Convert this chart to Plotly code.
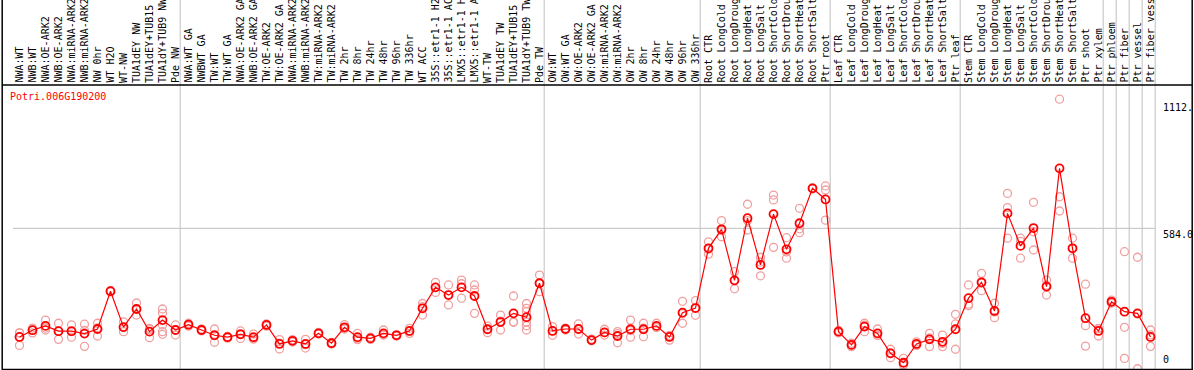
import plotly.graph_objects as go

gene = "Potri.006G190200"

labels_g1 = ["NWA:WT", "NWB:WT", "NWA:OE-ARK2", "NWB:OE-ARK2", "NWA:miRNA-ARK2", "NWB:miRNA-ARK2",
             "NW 0hr", "WT H2O", "WT-NW", "TUA1dEY NW", "TUA1dEY+TUB15 NW", "TUA1dY+TUB9 NW", "Pde NW"]
labels_g2 = ["NWA:WT GA", "NWBWT GA", "TW:WT", "TW:WT GA", "NWA:OE-ARK2 GA", "NWB:OE-ARK2 GA",
             "TW:OE-ARK2", "TW:OE-ARK2 GA", "NWA:miRNA-ARK2 GA", "NWB:miRNA-ARK2 GA", "TW:miRNA-ARK2",
             "TW:miRNA-ARK2 GA", "TW 2hr", "TW 8hr", "TW 24hr", "TW 48hr", "TW 96hr", "TW 336hr", "WT ACC",
             "35S::etr1-1 H2O", "35S::etr1-1 ACC", "LMX5::etr1-1 H2O", "LMX5::etr1-1 ACC", "WT-TW",
             "TUA1dEY TW", "TUA1dEY+TUB15 TW", "TUA1dY+TUB9 TW", "Pde TW"]
labels_g3 = ["OW:WT", "OW:WT GA", "OW:OE-ARK2", "OW:OE-ARK2 GA", "OW:miRNA-ARK2", "OW:miRNA-ARK2 GA",
             "OW 2hr", "OW 8hr", "OW 24hr", "OW 48hr", "OW 96hr", "OW 336hr"]
labels_g4 = ["Root CTR", "Root LongCold", "Root LongDrought", "Root LongHeat", "Root LongSalt",
             "Root ShortCold", "Root ShortDrought", "Root ShortHeat", "Root ShortSalt", "Ptr root"]
labels_g5 = ["Leaf CTR", "Leaf LongCold", "Leaf LongDrought", "Leaf LongHeat", "Leaf LongSalt",
             "Leaf ShortCold", "Leaf ShortDrought", "Leaf ShortHeat", "Leaf ShortSalt", "Ptr leaf"]
labels_g6 = ["Stem CTR", "Stem LongCold", "Stem LongDrought", "Stem LongHeat", "Stem LongSalt",
             "Stem ShortCold", "Stem ShortDrought", "Stem ShortHeat", "Stem ShortSalt", "Ptr shoot", "Ptr xylem"]
labels_g7 = ["Ptr phloem"]
labels_g8 = ["Ptr fiber"]
labels_g9 = ["Ptr vessel"]
labels_g10 = ["Ptr fiber vessel"]

groups = [labels_g1, labels_g2, labels_g3, labels_g4, labels_g5, labels_g6,
          labels_g7, labels_g8, labels_g9, labels_g10]
labels = [l for g in groups for l in g]

means = [133, 161, 179, 157, 157, 147, 166, 323, 174, 249, 155, 203, 162,
         184, 162, 140, 132, 144, 132, 183, 104, 117, 104, 148, 107, 173, 132, 127, 148, 140, 158,
         252, 339, 307, 339, 303, 165, 195, 231, 215, 356,
         158, 166, 166, 120, 152, 137, 165, 165, 179, 133, 234, 253,
         501, 580, 368, 626, 432, 643, 497, 605, 750, 704,
         155, 100, 176, 148, 65, 26, 104, 123, 113, 165,
         294, 360, 241, 646, 511, 585, 342, 833, 501, 211, 158,
         279, 238, 231, 133]

replicates = [
    [150, 98, 150], [150, 170, 162], [203, 162, 170], [190, 123, 157], [183, 132, 155],
    [186, 94, 160], [190, 137, 171], [322, 325, 320], [196, 155, 172], [274, 224, 249],
    [169, 130, 165], [249, 231, 183, 155, 144], [183, 141, 162],
    [184, 190, 178], [162, 158, 166], [166, 111, 143], [132, 128, 135], [158, 127, 147],
    [145, 125, 125], [183, 178, 187], [122, 83, 107], [117, 112, 122], [123, 87, 101],
    [148, 152, 145], [107, 104, 110], [184, 170, 166], [148, 125, 122], [127, 132, 123],
    [162, 142, 141], [140, 137, 143], [169, 148, 156], [272, 224, 259], [360, 318, 339],
    [349, 266, 307], [369, 294, 354], [349, 328, 231], [178, 151, 166], [224, 162, 199],
    [303, 196, 194], [272, 252, 238, 195, 180, 162], [390, 321, 356],
    [176, 140, 158], [166, 170, 162], [187, 145, 166], [120, 124, 117], [165, 141, 151],
    [155, 109, 147], [203, 132, 159], [190, 134, 170], [190, 172, 173], [120, 138, 140],
    [281, 190, 230], [284, 223, 253],
    [528, 477, 497], [616, 549, 575], [404, 333, 367], [684, 577, 616], [464, 387, 444],
    [722, 702, 505], [545, 460, 486], [667, 566, 582], [752, 748, 750], [760, 743, 618],
    [155, 160, 150], [107, 93, 99], [190, 155, 182], [166, 140, 139], [82, 47, 67],
    [44, 17, 18], [113, 100, 98], [148, 93, 129], [141, 93, 106], [227, 187, 82],
    [349, 269, 263], [397, 325, 357], [273, 213, 237], [729, 670, 543], [543, 460, 530],
    [692, 570, 494], [369, 307, 348], [1120, 715, 656], [543, 460, 501], [352, 180, 95],
    [169, 137, 167],
    [286, 279, 273], [487, 173, 44], [464, 1, 229], [162, 94, 142],
]

y_label_vals = [1112, 584, 0]
y_label_text = ["1112.", "584.0", "0"]
grid_vals = [584]

# ---------------- layout geometry ----------------
W, H = 1194, 370
L_PX, R_PX = 12.8, 1156.8
TOP_PX, BOT_PX = 85, 369
PLOT_W = R_PX - L_PX
PLOT_H = BOT_PX - TOP_PX
YMAX = 1179
N = len(labels)
SEP_OFF = -0.14
FONT = "DejaVu Sans Mono"


def px_x(px):
    return (px - L_PX) / PLOT_W


def px_y(py):
    return (BOT_PX - py) / PLOT_H


rep_x, rep_y = [], []
for i, reps in enumerate(replicates):
    for v in reps:
        rep_x.append(i)
        rep_y.append(v)

fig = go.Figure()
fig.add_trace(go.Scatter(
    x=rep_x, y=rep_y, mode="markers",
    marker=dict(symbol="circle-open", size=8, color="#f0a0a0", line=dict(width=1.3, color="#f0a0a0")),
    hoverinfo="skip", showlegend=False, cliponaxis=False))
fig.add_trace(go.Scatter(
    x=list(range(N)), y=means, mode="lines+markers",
    line=dict(color="#ff0000", width=1.2),
    marker=dict(symbol="circle-open", size=8, color="#ff0000", line=dict(width=1.8, color="#ff0000")),
    showlegend=False, cliponaxis=False))

shapes = []
bounds = [0]
for g in groups:
    bounds.append(bounds[-1] + len(g))
for bd in bounds:
    shapes.append(dict(type="line", xref="x", yref="paper", x0=bd - 0.5 + SEP_OFF, x1=bd - 0.5 + SEP_OFF,
                       y0=px_y(BOT_PX), y1=px_y(0), line=dict(color="#c0c0c0", width=1), layer="below"))
for gv in grid_vals:
    shapes.append(dict(type="line", xref="x", yref="y", x0=-0.5 + SEP_OFF, x1=N - 0.5 + SEP_OFF,
                       y0=gv, y1=gv, line=dict(color="#c0c0c0", width=1), layer="below"))
# frame
shapes.append(dict(type="line", xref="paper", yref="paper", x0=px_x(2), x1=px_x(1192),
                   y0=1, y1=1, line=dict(color="black", width=1.5)))
shapes.append(dict(type="line", xref="paper", yref="paper", x0=px_x(2), x1=px_x(1192),
                   y0=px_y(369.5), y1=px_y(369.5), line=dict(color="black", width=1.5)))
shapes.append(dict(type="line", xref="paper", yref="paper", x0=px_x(2), x1=px_x(2),
                   y0=px_y(370), y1=px_y(0), line=dict(color="black", width=1.5)))
shapes.append(dict(type="line", xref="paper", yref="paper", x0=px_x(1192), x1=px_x(1192),
                   y0=px_y(370), y1=px_y(0), line=dict(color="black", width=1.5)))

annotations = []
for i, lab in enumerate(labels):
    annotations.append(dict(x=i, xref="x", y=px_y(TOP_PX - 1), yref="paper", text=lab,
                            textangle=-90, xanchor="center", yanchor="bottom", showarrow=False,
                            font=dict(family=FONT, size=10, color="black"), borderpad=0))
for v, t in zip(y_label_vals, y_label_text):
    annotations.append(dict(x=px_x(1162), xref="paper", y=v, yref="y", text=t, showarrow=False,
                            xanchor="left", yanchor="bottom" if v == 0 else "top",
                            yshift=3 if v == 0 else 0,
                            font=dict(family=FONT, size=10, color="black"), borderpad=0))
annotations.append(dict(x=px_x(9), xref="paper", y=px_y(90), yref="paper", text=gene, showarrow=False,
                        xanchor="left", yanchor="top", font=dict(family=FONT, size=10, color="#ff0000"),
                        borderpad=0))

fig.update_layout(
    width=W, height=H,
    margin=dict(l=L_PX, r=W - R_PX, t=TOP_PX, b=H - BOT_PX, pad=0),
    paper_bgcolor="white", plot_bgcolor="white",
    xaxis=dict(range=[-0.5, N - 0.5], showgrid=False, zeroline=False, showticklabels=False,
               ticks="", showline=False, fixedrange=True),
    yaxis=dict(range=[0, YMAX], showgrid=False, zeroline=False, showticklabels=False,
               ticks="", showline=False, fixedrange=True),
    shapes=shapes, annotations=annotations,
)

fig.write_html("out.html",
               config={"displayModeBar": False, "staticPlot": True},
               post_script="document.body.style.margin='0';document.body.style.padding='0';"
                           "document.body.style.overflow='hidden';")
